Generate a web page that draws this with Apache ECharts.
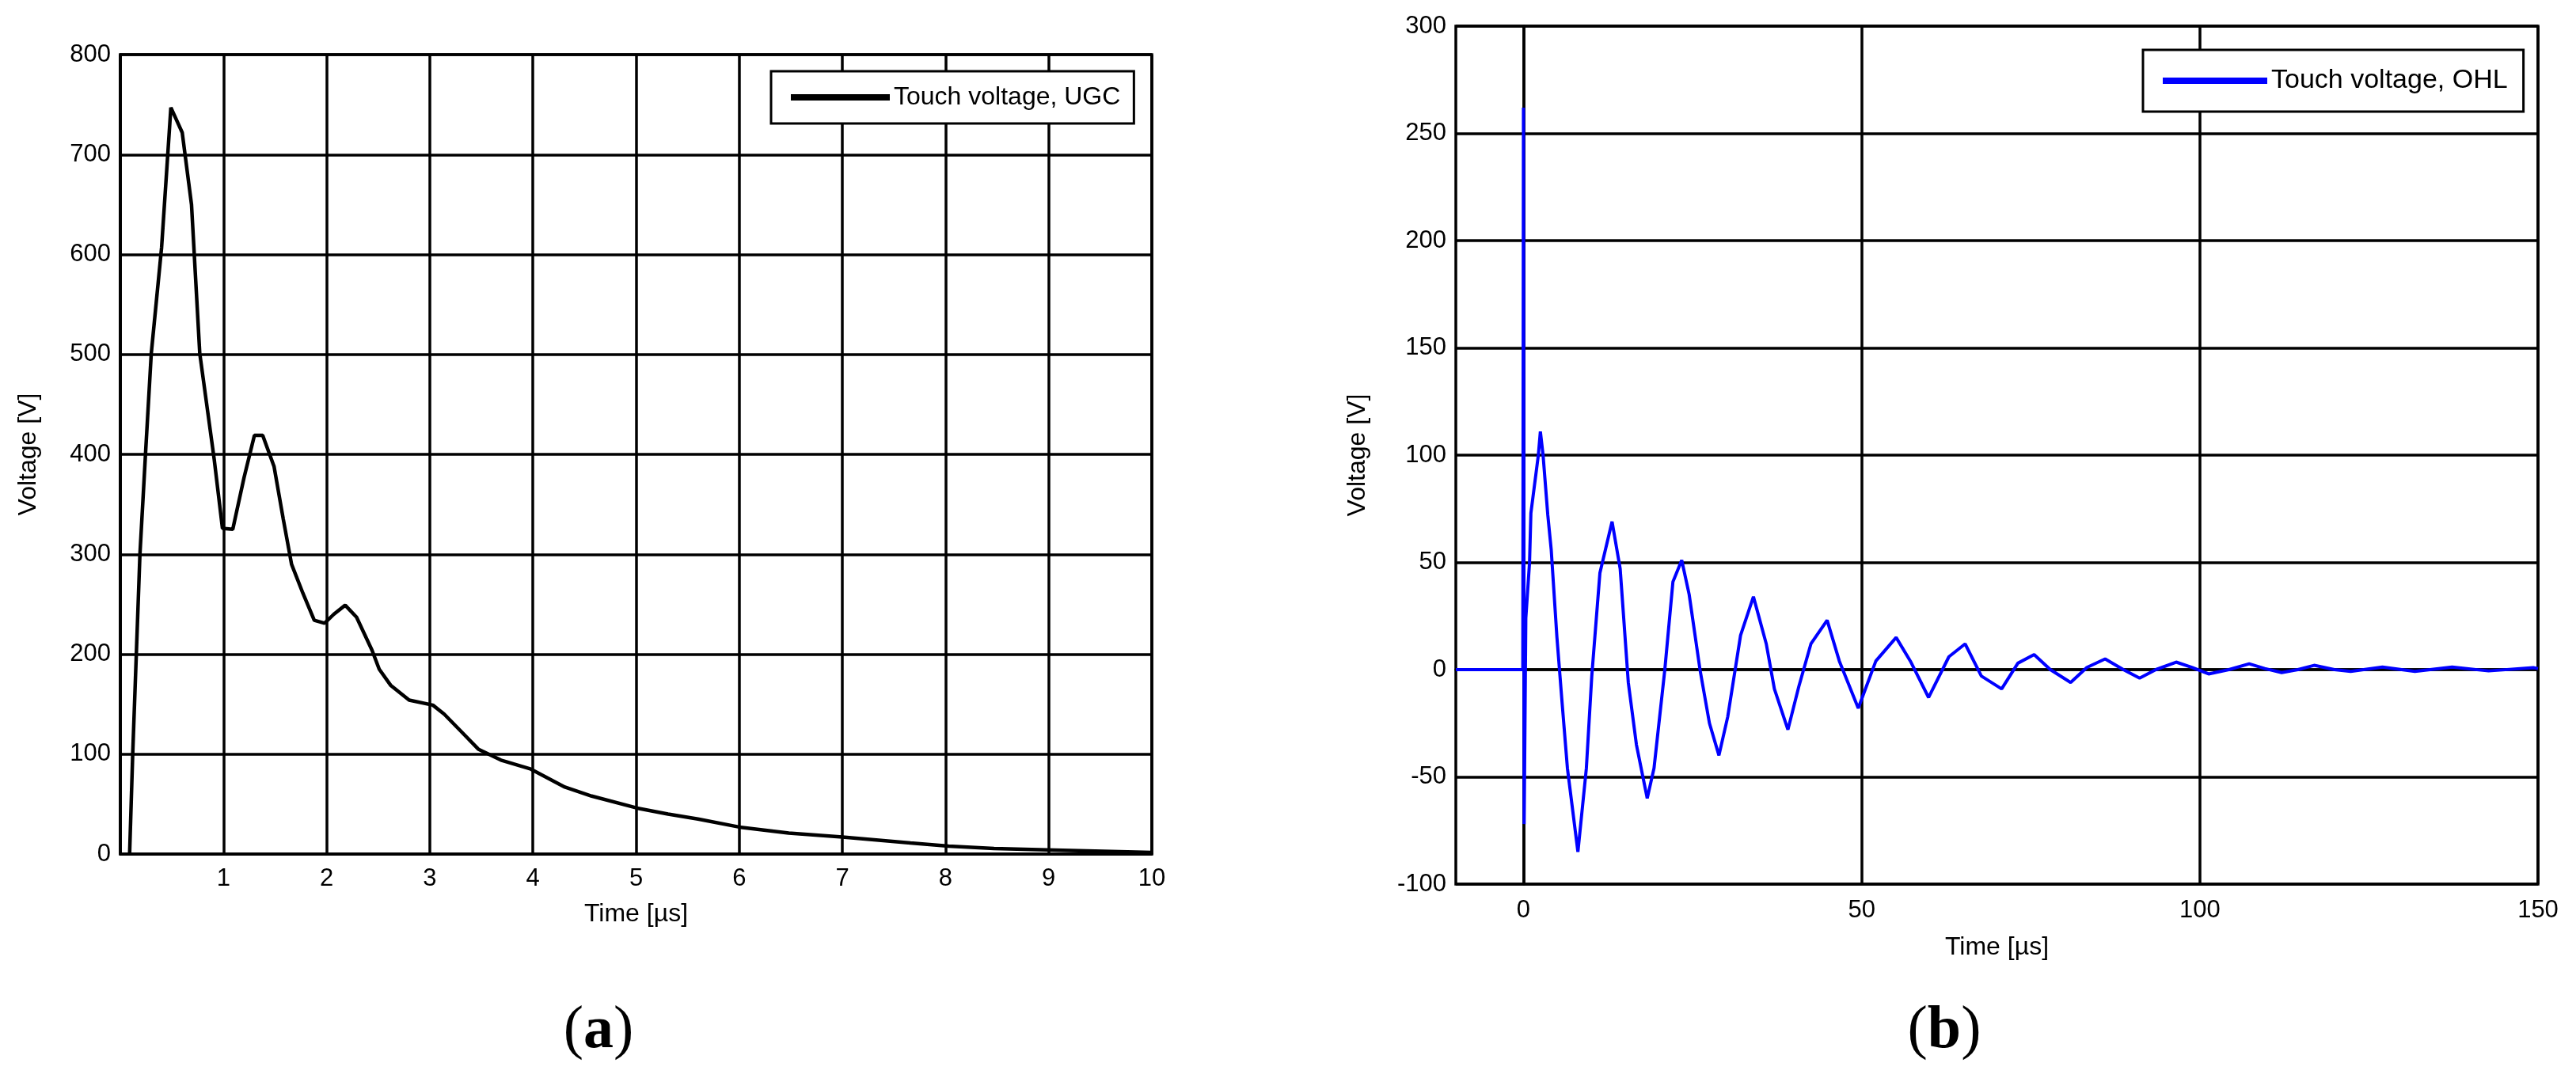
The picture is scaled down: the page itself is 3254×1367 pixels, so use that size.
<!DOCTYPE html>
<html>
<head>
<meta charset="utf-8">
<script src="https://cdn.jsdelivr.net/npm/echarts@6/dist/echarts.min.js"></script>
<style>
  html, body { margin: 0; padding: 0; background: #fff; }
  #myChart { width: 3254px; height: 1367px; }
</style>
</head>
<body>
<div id="myChart"></div>
<script>
// (a) touch voltage, underground cable
var timeA = [0.09, 0.12, 0.155, 0.19, 0.245, 0.30, 0.40, 0.49, 0.60, 0.69, 0.77, 0.91, 0.99, 1.09,
  1.20, 1.30, 1.38, 1.49, 1.58, 1.66, 1.77, 1.88, 1.98, 2.07, 2.18, 2.29, 2.44, 2.51, 2.62, 2.80,
  3.03, 3.14, 3.32, 3.47, 3.69, 3.98, 4.31, 4.57, 5.01, 5.31, 5.60, 6.0, 6.48, 7.0, 7.66, 8.03,
  8.47, 9.06, 10];
var voltA = [0, 100, 200, 300, 402, 501, 607, 747, 722, 650, 501, 395, 326, 325,
  377, 419, 419, 388, 335, 290, 261, 234, 231, 240, 249, 237, 204, 185, 169, 154,
  149, 140, 121, 105, 94, 85, 67, 58, 46, 40, 35, 27, 21, 17, 11, 8,
  5.5, 4, 1.5];

// (b) touch voltage, overhead line
var timeB = [-10, -0.1, 0, 0.1, 0.35, 0.9, 1.1, 2.2, 2.5, 2.9, 3.6, 4.1, 4.95, 5.7, 6.5, 8.05,
  9.3, 10.1, 11.3, 13.1, 14.3, 15.5, 16.7, 18.3, 19.3, 20.9, 22.1, 23.4, 24.5, 26.1, 27.5,
  28.9, 30.2, 32.1, 34.0, 35.9, 37.1, 39.1, 40.7, 42.5, 44.9, 46.7, 49.5, 52.1, 55.1, 57.2,
  59.9, 62.9, 65.3, 67.7, 70.7, 73.1, 75.5, 77.9, 80.9, 83.3, 86.0, 88.7, 91.1, 93.5, 96.5,
  98.9, 101.3, 104.3, 107.3, 109.6, 112.1, 114.5, 116.9, 119.9, 122.3, 127, 131.8, 137.3,
  142.7, 149.3, 150];
var voltB = [0, 0, 262, -72, 24, 50, 73, 100, 111, 100, 72, 56, 15, -15, -46, -85,
  -46, -3, 45, 69, 47, -6, -35, -60, -46, 0, 41, 51, 35, 0, -25,
  -40, -22, 16, 34, 12, -9, -28, -8, 12, 23, 4, -18, 4, 15, 4,
  -13, 6, 12, -3, -9, 3, 7, 0, -6, 1, 5, 0, -4, 0, 3.5,
  1, -2, 0, 2.7, 0.5, -1.4, 0, 2, 0, -0.8, 1.2, -0.8, 1.2,
  -0.6, 0.9, 0.5];

var xTicksB = [0, 50, 100, 150];

function pairs(xs, ys) {
  var out = [];
  for (let i = 0; i < xs.length; i++) {
    out.push([xs[i], ys[i]]);
  }
  return out;
}

var font = '"Liberation Sans", Arial, sans-serif';
var black = '#000';

function gridLine() {
  return { show: true, lineStyle: { color: black, width: 3.5 } };
}

var option = {
  animation: false,
  backgroundColor: '#fff',
  textStyle: { fontFamily: font },
  grid: [
    { left: 152, top: 69, width: 1303, height: 1010, show: true, borderColor: black, borderWidth: 3.5 },
    { left: 1839, top: 33, width: 1367, height: 1084, show: true, borderColor: black, borderWidth: 3.5 }
  ],
  xAxis: [{
    gridIndex: 0, type: 'value', min: 0, max: 10, interval: 1,
    name: 'Time [\u00b5s]', nameLocation: 'middle', nameGap: 60,
    nameTextStyle: { fontSize: 32, color: black, fontFamily: font },
    axisLine: { lineStyle: { color: black, width: 3.5 } },
    axisTick: { show: false },
    axisLabel: { showMinLabel: false, fontSize: 31, color: black, margin: 16, fontFamily: font },
    splitLine: gridLine()
  }, {
    gridIndex: 1, type: 'value', min: -10, max: 150,
    name: 'Time [\u00b5s]', nameLocation: 'middle', nameGap: 64,
    nameTextStyle: { fontSize: 32, color: black, fontFamily: font },
    axisLine: { lineStyle: { color: black, width: 3.5 } },
    axisTick: { show: false, customValues: xTicksB },
    axisLabel: { customValues: xTicksB, fontSize: 31, color: black, margin: 18, fontFamily: font },
    splitLine: gridLine()
  }],
  yAxis: [{
    gridIndex: 0, type: 'value', min: 0, max: 800, interval: 100,
    name: 'Voltage [V]', nameLocation: 'middle', nameGap: 100,
    nameTextStyle: { fontSize: 32, color: black, fontFamily: font },
    axisLine: { show: true, lineStyle: { color: black, width: 3.5 } },
    axisTick: { show: false },
    axisLabel: { fontSize: 31, color: black, margin: 12, fontFamily: font },
    splitLine: gridLine()
  }, {
    gridIndex: 1, type: 'value', min: -100, max: 300, interval: 50,
    name: 'Voltage [V]', nameLocation: 'middle', nameGap: 108,
    nameTextStyle: { fontSize: 32, color: black, fontFamily: font },
    axisLine: { show: true, lineStyle: { color: black, width: 3.5 } },
    axisTick: { show: false },
    axisLabel: { fontSize: 31, color: black, margin: 12, fontFamily: font },
    splitLine: gridLine()
  }],
  legend: [{
    data: ['Touch voltage, UGC'],
    left: 974, top: 90, orient: 'vertical',
    icon: 'rect', itemWidth: 125, itemHeight: 8,
    padding: [17, 17, 17, 25],
    backgroundColor: '#fff', borderColor: black, borderWidth: 3,
    textStyle: { fontSize: 32, color: black, fontFamily: font }
  }, {
    data: ['Touch voltage, OHL'],
    left: 2707, top: 63, orient: 'vertical',
    icon: 'rect', itemWidth: 132, itemHeight: 8,
    padding: [22, 20, 22, 25],
    backgroundColor: '#fff', borderColor: black, borderWidth: 3,
    textStyle: { fontSize: 34, color: black, fontFamily: font }
  }],
  series: [{
    name: 'Touch voltage, UGC', type: 'line',
    xAxisIndex: 0, yAxisIndex: 0,
    data: pairs(timeA, voltA),
    showSymbol: false, color: black,
    lineStyle: { color: black, width: 4.5 }
  }, {
    name: 'Touch voltage, OHL', type: 'line',
    xAxisIndex: 1, yAxisIndex: 1,
    data: pairs(timeB, voltB),
    showSymbol: false, color: '#0000ff',
    lineStyle: { color: '#0000ff', width: 4 }
  }],
  graphic: [{
    type: 'text', x: 756, y: 1303,
    style: {
      text: '({b|a})', align: 'center', verticalAlign: 'middle',
      fontSize: 76, fontFamily: '"Liberation Serif", "Times New Roman", serif', fill: black,
      rich: { b: { fontWeight: 'bold', fontSize: 76, fontFamily: '"Liberation Serif", serif' } }
    }
  }, {
    type: 'text', x: 2456, y: 1303,
    style: {
      text: '({b|b})', align: 'center', verticalAlign: 'middle',
      fontSize: 76, fontFamily: '"Liberation Serif", "Times New Roman", serif', fill: black,
      rich: { b: { fontWeight: 'bold', fontSize: 76, fontFamily: '"Liberation Serif", serif' } }
    }
  }]
};

// 基于准备好的dom，初始化echarts实例
var myChart = echarts.init(document.getElementById('myChart'));
myChart.setOption(option);
</script>
</body>
</html>
